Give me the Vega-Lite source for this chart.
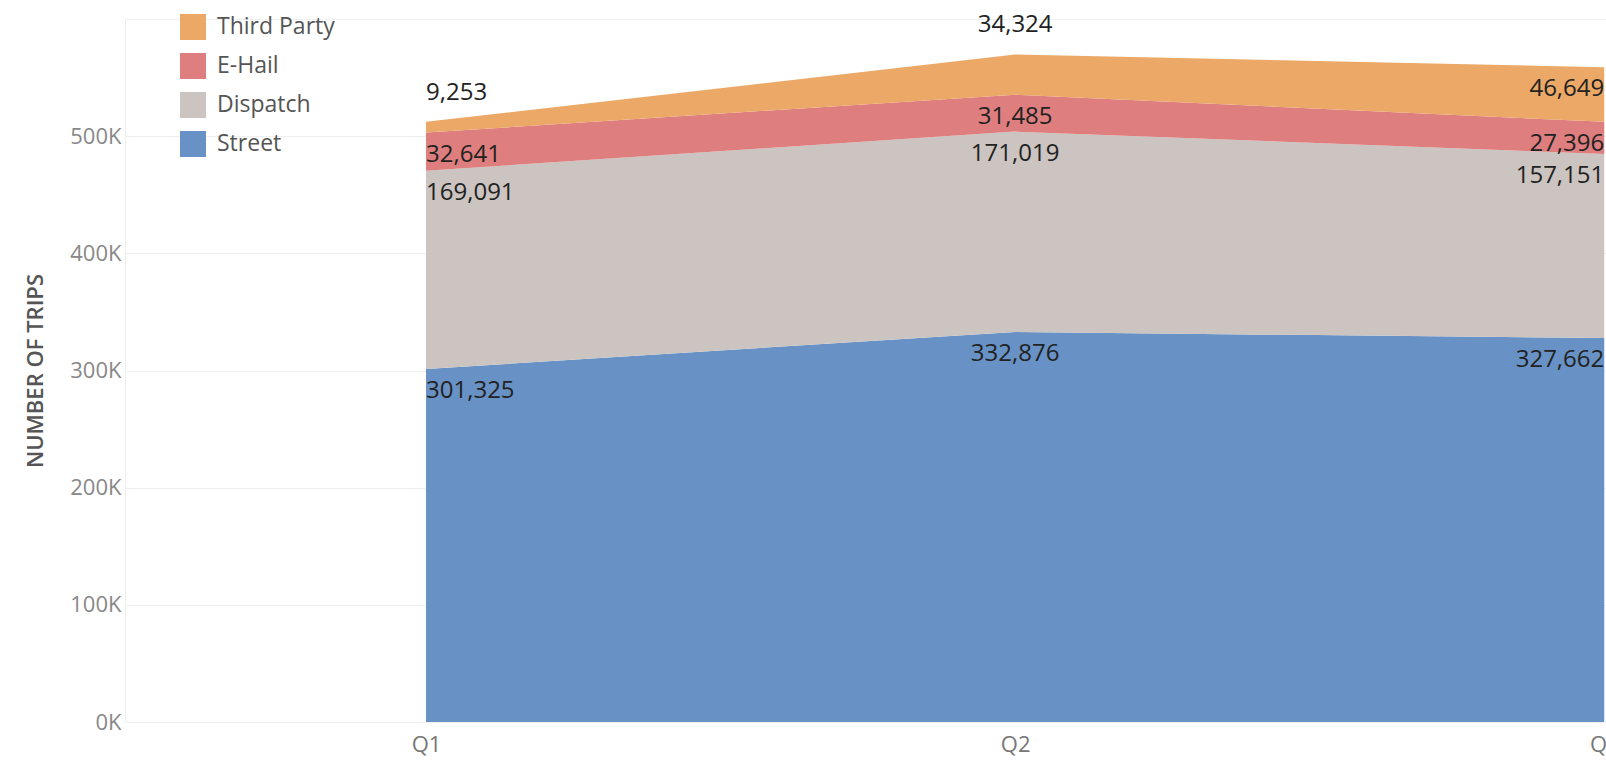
{
  "$schema": "https://vega.github.io/schema/vega-lite/v6.json",
  "width": 1481,
  "height": 703,
  "autosize": {"type": "none"},
  "padding": {"left": 125, "top": 19, "right": 0, "bottom": 40},
  "background": "#ffffff",
  "config": {
    "font": "Open Sans",
    "view": {"stroke": null},
    "axis": {"labelFont": "Open Sans", "titleFont": "Open Sans"},
    "legend": {"labelFont": "Open Sans"}
  },
  "data": {
    "values": [
      {"quarter": "Q1", "q": 1, "type": "Street", "trips": 301325},
      {"quarter": "Q1", "q": 1, "type": "Dispatch", "trips": 169091},
      {"quarter": "Q1", "q": 1, "type": "E-Hail", "trips": 32641},
      {"quarter": "Q1", "q": 1, "type": "Third Party", "trips": 9253},
      {"quarter": "Q2", "q": 2, "type": "Street", "trips": 332876},
      {"quarter": "Q2", "q": 2, "type": "Dispatch", "trips": 171019},
      {"quarter": "Q2", "q": 2, "type": "E-Hail", "trips": 31485},
      {"quarter": "Q2", "q": 2, "type": "Third Party", "trips": 34324},
      {"quarter": "Q3", "q": 3, "type": "Street", "trips": 327662},
      {"quarter": "Q3", "q": 3, "type": "Dispatch", "trips": 157151},
      {"quarter": "Q3", "q": 3, "type": "E-Hail", "trips": 27396},
      {"quarter": "Q3", "q": 3, "type": "Third Party", "trips": 46649}
    ]
  },
  "transform": [
    {"calculate": "indexof(['Street','Dispatch','E-Hail','Third Party'], datum.type)", "as": "ord"},
    {"stack": "trips", "groupby": ["q"], "sort": [{"field": "ord", "order": "ascending"}], "as": ["y0", "y1"]}
  ],
  "layer": [
    {
      "mark": {"type": "area", "opacity": 1},
      "encoding": {
        "x": {
          "field": "q", "type": "quantitative",
          "scale": {"domain": [0.489, 3.003], "nice": false, "zero": false},
          "axis": {
            "values": [1, 2, 3],
            "labelExpr": "'Q' + datum.value",
            "title": null,
            "grid": false,
            "domain": false,
            "ticks": false,
            "labelFontSize": 22,
            "labelColor": "#777777",
            "labelPadding": 12
          }
        },
        "y": {
          "field": "y1", "type": "quantitative",
          "scale": {"domain": [0, 600000], "nice": false},
          "axis": {
            "values": [0, 100000, 200000, 300000, 400000, 500000, 600000],
            "labelExpr": "datum.value >= 600000 ? '' : format(datum.value / 1000, 'd') + 'K'",
            "title": "NUMBER OF TRIPS",
            "titleFontSize": 22,
            "titleFontWeight": 600,
            "titleColor": "#555555",
            "titlePadding": 22,
            "labelFontSize": 22,
            "labelColor": "#888888",
            "labelPadding": 4,
            "ticks": false,
            "domain": true,
            "domainColor": "#eeeeee",
            "gridColor": "#efefef"
          }
        },
        "y2": {"field": "y0"},
        "color": {
          "field": "type", "type": "nominal",
          "scale": {
            "domain": ["Third Party", "E-Hail", "Dispatch", "Street"],
            "range": ["#EBA866", "#DE7E7E", "#CBC4C0", "#6892C5"]
          },
          "legend": {
            "title": null,
            "orient": "none",
            "legendX": 55,
            "legendY": -5,
            "symbolType": "square",
            "symbolSize": 676,
            "symbolStrokeWidth": 0,
            "symbolOpacity": 1,
            "labelFontSize": 23,
            "labelColor": "#555555",
            "labelOffset": 11,
            "rowPadding": 13,
            "padding": 0
          }
        }
      }
    },
    {
      "transform": [{"filter": "!(datum.type === 'Third Party' && datum.q < 3)"}],
      "mark": {
        "type": "text",
        "baseline": "top",
        "dy": 10,
        "fontSize": 24,
        "color": "#222222",
        "align": {"expr": "datum.q === 1 ? 'left' : (datum.q === 2 ? 'center' : 'right')"}
      },
      "encoding": {
        "x": {"field": "q", "type": "quantitative"},
        "y": {"field": "y1", "type": "quantitative"},
        "text": {"field": "trips", "type": "quantitative", "format": ","}
      }
    },
    {
      "transform": [{"filter": "datum.type === 'Third Party' && datum.q < 3"}],
      "mark": {
        "type": "text",
        "baseline": "alphabetic",
        "dy": -22,
        "fontSize": 24,
        "color": "#222222",
        "align": {"expr": "datum.q === 1 ? 'left' : 'center'"}
      },
      "encoding": {
        "x": {"field": "q", "type": "quantitative"},
        "y": {"field": "y1", "type": "quantitative"},
        "text": {"field": "trips", "type": "quantitative", "format": ","}
      }
    }
  ]
}
